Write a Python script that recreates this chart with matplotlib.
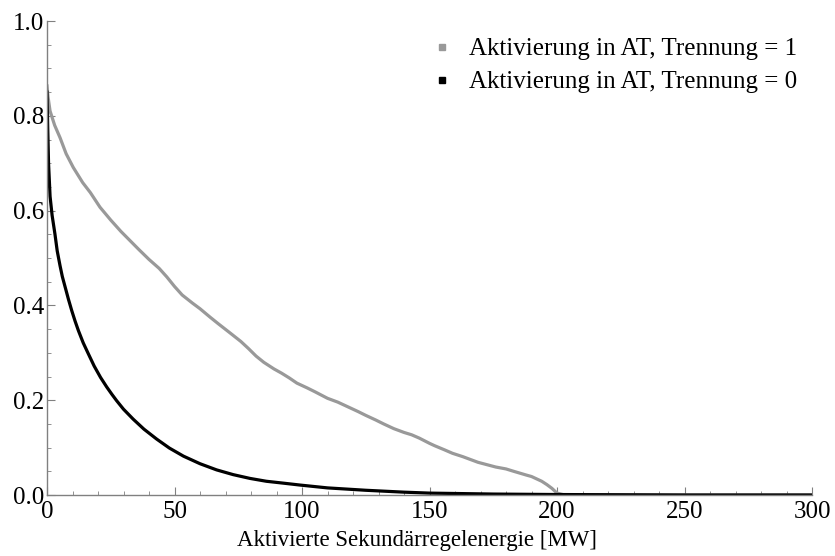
import numpy as np
import matplotlib.pyplot as plt
from matplotlib.ticker import MultipleLocator

# Trennung = 1 (grau)
gray_x = [0, 0.4, 1.2, 3, 5.1, 7.5, 10.3, 14, 17, 20.8, 25, 29, 32.5, 36,
          40, 44, 47, 50, 53, 57, 60, 64, 67, 72, 76, 79, 82, 85, 89, 92,
          95, 98, 102, 105, 110, 114, 118, 122, 125, 129, 132, 136, 140,
          143, 146, 150, 152, 156, 159, 163, 166, 169, 172.5, 176, 180, 183,
          185.5, 188, 190, 192, 194, 196, 198, 200, 203, 250, 300]
gray_y = [0.863, 0.84, 0.81, 0.78, 0.754, 0.72, 0.691, 0.659, 0.638, 0.607,
          0.580, 0.556, 0.537, 0.518, 0.497, 0.478, 0.460, 0.440, 0.422,
          0.405, 0.393, 0.375, 0.362, 0.341, 0.324, 0.309, 0.293, 0.280,
          0.266, 0.257, 0.247, 0.236, 0.226, 0.218, 0.204, 0.196, 0.186,
          0.176, 0.168, 0.158, 0.150, 0.140, 0.132, 0.127, 0.120, 0.109,
          0.104, 0.095, 0.088, 0.081, 0.075, 0.069, 0.064, 0.059, 0.055,
          0.050, 0.046, 0.042, 0.039, 0.034, 0.029, 0.022, 0.014, 0.004,
          0.0, 0.0, 0.0]

# Trennung = 0 (schwarz)
black_x = [0, 0.3, 0.6, 1.2, 2.0, 3.1, 4.0, 5.1, 6.0, 7.1, 8.4, 9.7, 11,
           12.3, 14.2, 16.2, 18.5, 21.0, 23.4, 25.5, 27.3, 30, 33.8, 38,
           43, 48, 53.5, 60, 66.5, 73, 79.6, 86, 92.7, 99.2, 110, 125,
           140, 150, 175, 200, 250, 300]
black_y = [0.85, 0.77, 0.70, 0.63, 0.59, 0.551, 0.515, 0.484, 0.461, 0.439,
           0.413, 0.389, 0.367, 0.347, 0.321, 0.298, 0.272, 0.248, 0.228,
           0.212, 0.199, 0.181, 0.160, 0.139, 0.118, 0.099, 0.082, 0.066,
           0.053, 0.043, 0.035, 0.029, 0.025, 0.021, 0.015, 0.010, 0.006,
           0.004, 0.002, 0.001, 0.0, 0.0]

labels = ["Aktivierung in AT, Trennung = 1", "Aktivierung in AT, Trennung = 0"]

plt.rcParams['font.family'] = ['Liberation Serif', 'DejaVu Serif']

fig = plt.figure(figsize=(8.35, 5.56), dpi=100)
ax = fig.add_axes([0.0563, 0.1097, 0.9162, 0.8525])

ax.plot(gray_x, gray_y, color='#999999', lw=2.3, solid_joinstyle='round')
ax.plot(black_x, black_y, color='black', lw=2.3, solid_joinstyle='round')

# legend handles as small squares
ax.plot([], [], 's', color='#999999', markersize=4, label=labels[0])
ax.plot([], [], 's', color='black', markersize=4, label=labels[1])
handles, leg_labels = ax.get_legend_handles_labels()
ax.legend(handles, leg_labels, loc='upper right', frameon=False,
          fontsize=18, handlelength=0.6, handletextpad=0.8,
          labelspacing=0.42, bbox_to_anchor=(1.01, 1.012))

ax.set_xlim(0, 300)
ax.set_ylim(0, 1.0)
ax.xaxis.set_major_locator(MultipleLocator(50))
ax.xaxis.set_minor_locator(MultipleLocator(10))
ax.yaxis.set_major_locator(MultipleLocator(0.2))
ax.yaxis.set_minor_locator(MultipleLocator(0.05))
ax.yaxis.set_major_formatter(plt.FormatStrFormatter('%.1f'))

for side in ['top', 'right']:
    ax.spines[side].set_visible(False)
for side in ['left', 'bottom']:
    ax.spines[side].set_color('#808080')
    ax.spines[side].set_linewidth(1.0)

ax.tick_params(which='both', direction='in', colors='#808080',
               labelcolor='black', labelsize=18)
ax.tick_params(which='major', length=6)
ax.tick_params(which='minor', length=3)
ax.tick_params(axis='x', pad=4)
ax.tick_params(axis='y', pad=2)

ax.set_xlabel("Aktivierte Sekundärregelenergie [MW]", fontsize=16.5)
ax.xaxis.set_label_coords(0.484, -0.074)

fig.savefig("out.png", dpi=100)
